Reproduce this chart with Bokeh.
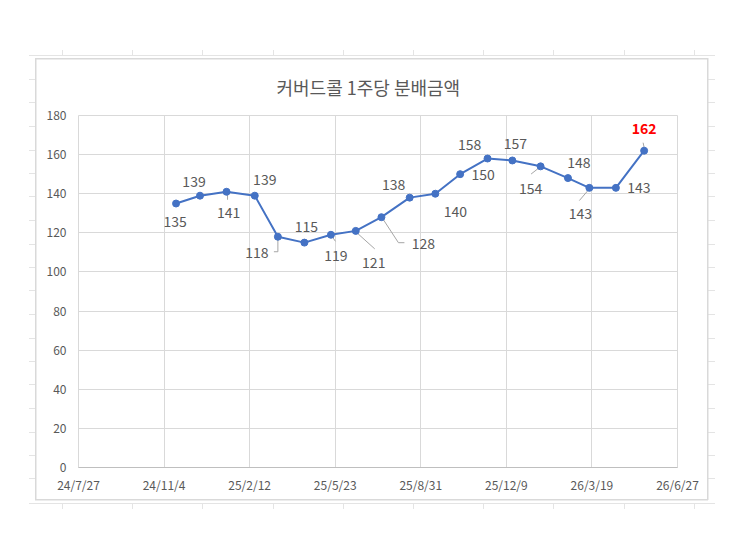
import pandas as pd
from bokeh.plotting import figure
from bokeh.models import ColumnDataSource, Range1d, FixedTicker
from bokeh.core.properties import value
from bokeh.embed import file_html
from bokeh.resources import INLINE

# ---------------- data ----------------
TITLE = "커버드콜 1주당 분배금액"
dates = ["2024-11-18", "2024-12-16", "2025-01-16", "2025-02-18", "2025-03-17",
         "2025-04-17", "2025-05-18", "2025-06-16", "2025-07-16", "2025-08-18",
         "2025-09-17", "2025-10-16", "2025-11-17", "2025-12-16", "2026-01-18",
         "2026-02-19", "2026-03-16", "2026-04-16", "2026-05-19"]
amounts = [135, 139, 141, 139, 118, 115, 119, 121, 128, 138,
           140, 150, 158, 157, 154, 148, 143, 143, 162]
x_tick_dates = ["2024-07-27", "2024-11-04", "2025-02-12", "2025-05-23",
                "2025-08-31", "2025-12-09", "2026-03-19", "2026-06-27"]
x_tick_labels = ["24/7/27", "24/11/4", "25/2/12", "25/5/23",
                 "25/8/31", "25/12/9", "26/3/19", "26/6/27"]
y_ticks = [0, 20, 40, 60, 80, 100, 120, 140, 160, 180]

# ---------------- styling ----------------
FONT = "Noto Sans CJK KR"
LINE_BLUE = "#4472C4"
GRID = "#D9D9D9"
W, H = 743, 550
BL, BR, BT, BB = 78, 66, 115, 83
FW, FH = W - BL - BR, H - BT - BB

# label offsets (screen px, dy positive = down)
lab_dx = [-1, -6, 2, 10, -21, 2, 5, 18, 42, -16, 20, 23, -18, 3, -10, 11, -9, 23, 0]
lab_dy = [18, -14, 21, -16, 16, -16, 21, 32, 26, -13, 18, 0, -14, -17, 22, -16, 26, 0, -22]
# leader lines (screen px relative to point)
leaders = {
    2: [(1, 2), (1, 8)],
    4: [(-4, 15), (0, 15), (0, 2)],
    6: [(1, 1.5), (4.5, 6.5)],
    7: [(0.7, 1.5), (19, 18)],
    8: [(1, 1), (17, 25.5), (23, 25.5)],
    14: [(-0.5, 0.7), (-9.5, 7.7)],
    16: [(0, 1), (-10, 12.7)],
    18: [(-1, -8), (0, -3)],
}

xs = pd.to_datetime(pd.Series(dates))
x_ms = [t.value / 1e6 for t in xs]
tick_ms = [t.value / 1e6 for t in pd.to_datetime(pd.Series(x_tick_dates))]
x0, x1 = tick_ms[0], tick_ms[-1]
y0, y1 = y_ticks[0], y_ticks[-1]
ms_per_px = (x1 - x0) / FW
u_per_px = (y1 - y0) / FH

last = len(amounts) - 1
colors = ["#FF0000" if i == last else "#595959" for i in range(len(amounts))]
styles = ["bold" if i == last else "normal" for i in range(len(amounts))]

src = ColumnDataSource(dict(
    x=x_ms, y=amounts, label=[str(v) for v in amounts],
    dx=lab_dx, dy=lab_dy, color=colors, style=styles))

p = figure(width=W, height=H, output_backend="svg", toolbar_location=None,
           x_axis_type="datetime",
           x_range=Range1d(x0, x1), y_range=Range1d(y0, y1),
           min_border_left=BL, min_border_right=BR,
           min_border_top=BT, min_border_bottom=BB)
p.background_fill_color = "white"
p.border_fill_color = None
p.outline_line_color = GRID

# title
p.title.text = TITLE
p.title.align = "left"
p.title.offset = 198
p.title.standoff = 31
p.title.text_font = FONT
p.title.text_font_size = "18px"
p.title.text_font_style = "normal"
p.title.text_color = "#595959"

# axes
p.xaxis.ticker = FixedTicker(ticks=tick_ms)
p.xaxis.major_label_overrides = {t: l for t, l in zip(tick_ms, x_tick_labels)}
p.yaxis.ticker = FixedTicker(ticks=y_ticks)
for ax in (p.xaxis, p.yaxis):
    ax.major_tick_line_color = None
    ax.minor_tick_line_color = None
    ax.major_tick_out = 0
    ax.major_tick_in = 0
    ax.minor_tick_out = 0
    ax.minor_tick_in = 0
    ax.major_label_text_font = FONT
    ax.major_label_text_font_size = "12px"
    ax.major_label_text_color = "#595959"
p.xaxis.major_label_standoff = 8
p.yaxis.major_label_standoff = 12
p.xaxis.axis_line_color = "#BFBFBF"
p.yaxis.axis_line_color = None
p.xgrid.ticker = FixedTicker(ticks=tick_ms)
p.ygrid.ticker = FixedTicker(ticks=y_ticks)
p.xgrid.grid_line_color = GRID
p.ygrid.grid_line_color = GRID

# leader lines
lx, ly = [], []
for i, pts in leaders.items():
    lx.append([x_ms[i] + dx * ms_per_px for dx, dy in pts])
    ly.append([amounts[i] - dy * u_per_px for dx, dy in pts])
p.multi_line(lx, ly, line_color="#A6A6A6", line_width=1)

# series
p.line("x", "y", source=src, line_color=LINE_BLUE, line_width=2)
p.scatter("x", "y", source=src, size=7, fill_color=LINE_BLUE, line_color=LINE_BLUE)
p.text("x", "y", text="label", source=src, x_offset="dx", y_offset="dy",
       text_align="center", text_baseline="middle", text_color="color",
       text_font_style="style", text_font=value(FONT), text_font_size="14px")

# chart box and surrounding spreadsheet lines, drawn as CSS background layers
SHEET = "#E4E4E4"
layers = []
def bar(color, x, y, w, h):
    layers.append((f"linear-gradient({color},{color})", f"{x}px {y}px", f"{w}px {h}px"))

bar(GRID, 35, 58, 673, 1.5)
bar(GRID, 35, 499, 673, 1.5)
bar(GRID, 35, 58, 1.5, 442)
bar(GRID, 706.5, 58, 1.5, 442)
bar(SHEET, 29, 55, 686, 1)
bar(SHEET, 29, 503, 686, 1)
for k in range(10):
    cx = round(62 + 70.2 * k)
    bar(SHEET, cx, 50, 1, 5)
    bar(SHEET, cx, 504, 1, 5)
ry = 79.0
while ry < 500:
    bar(SHEET, 29, round(ry), 6, 1)
    bar(SHEET, 708, round(ry), 7, 1)
    ry += 23.5

p.styles = {
    "background-color": "white",
    "background-image": ", ".join(l[0] for l in layers),
    "background-position": ", ".join(l[1] for l in layers),
    "background-size": ", ".join(l[2] for l in layers),
    "background-repeat": "no-repeat",
}

open("out.html", "w").write(file_html(p, INLINE))
